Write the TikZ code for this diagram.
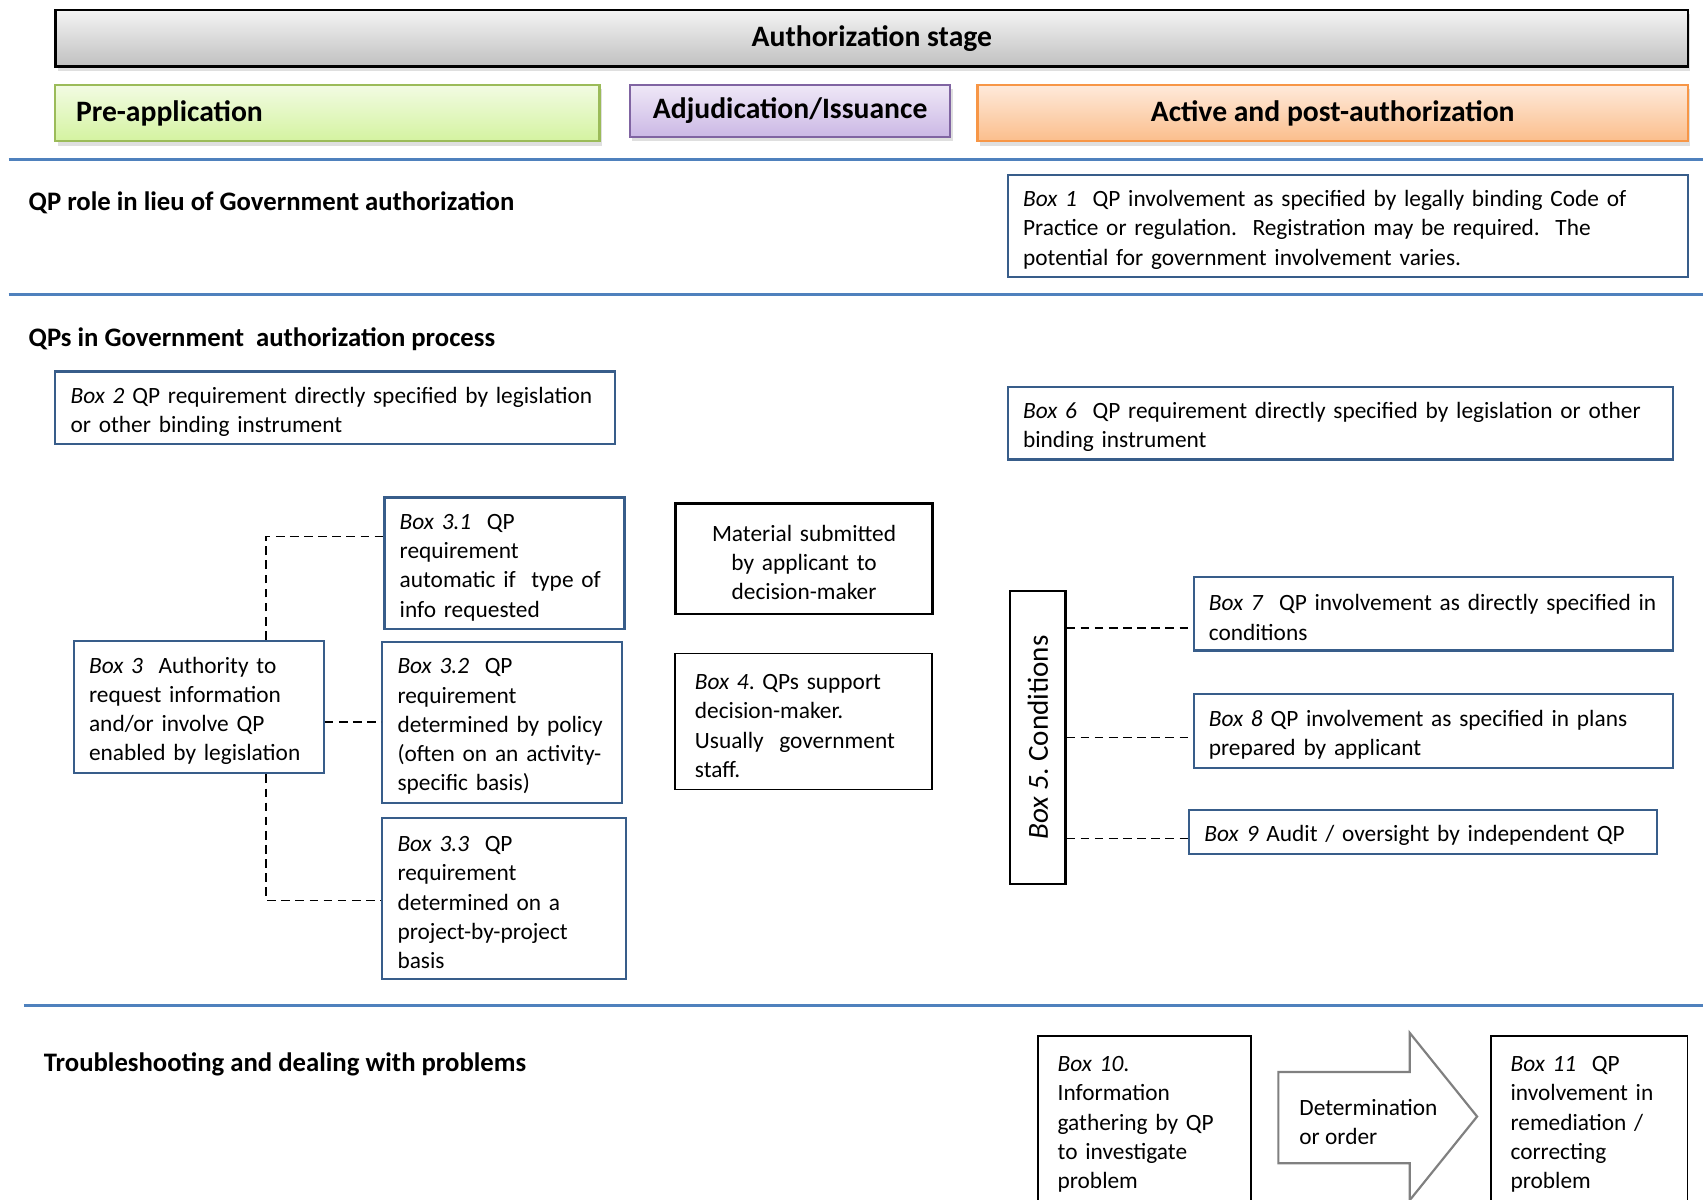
\documentclass[tikz,border=0pt]{standalone}
\usepackage{fontspec}
\setmainfont{Carlito}
\frenchspacing
\usetikzlibrary{shadows}
\newcommand\tu{\rule{0pt}{11pt}}
\definecolor{sepblue}{HTML}{4F81BD}
\definecolor{boxblue}{HTML}{385D8A}
\definecolor{grnB}{HTML}{9BBB59}
\definecolor{grnT}{HTML}{F2FBE3}
\definecolor{grnBot}{HTML}{D4F3A0}
\definecolor{purB}{HTML}{8064A2}
\definecolor{purT}{HTML}{EFE8F7}
\definecolor{purBot}{HTML}{CBB8E5}
\definecolor{orB}{HTML}{F79646}
\definecolor{orT}{HTML}{FEEADB}
\definecolor{orBot}{HTML}{FBBE8C}
\definecolor{gryT}{HTML}{F4F4F4}
\definecolor{gryBot}{HTML}{C0C0C0}
\definecolor{arrgrey}{HTML}{808080}
\begin{document}
\begin{tikzpicture}[x=0.5pt,y=-0.5pt,
  every node/.style={font=\fontsize{10.75}{13.5}\selectfont},
  stage/.style={anchor=north west, line width=1pt, font=\fontsize{13.65}{16}\selectfont\bfseries,
    drop shadow={shadow xshift=1pt,shadow yshift=-2pt,opacity=0.25}},
  qbox/.style={draw=boxblue, line width=1pt, anchor=north west, align=left, inner xsep=7pt, inner ysep=0pt},
  kbox/.style={draw=black, line width=0.8pt, anchor=north west, align=left, inner xsep=9pt, inner ysep=0pt},
  sect/.style={anchor=west, inner sep=0pt, font=\fontsize{12.3}{15}\selectfont\bfseries},
  sepline/.style={draw=sepblue, line width=1.5pt},
  dashcon/.style={draw=black, line width=0.8pt, dash pattern=on 4pt off 2.5pt},
]
\useasboundingbox (0,0) rectangle (1568,1104);
\fill[white] (0,0) rectangle (1568,1104);

% stage headers
\node[stage, draw=black, line width=1.2pt, top color=gryT, bottom color=gryBot,
  minimum width=751.5pt, minimum height=26pt] (auth) at (50,8) {Authorization stage};
\node[stage, draw=grnB, top color=grnT, bottom color=grnBot, minimum width=250.5pt, minimum height=26pt,
  text width=231.5pt, align=left, inner xsep=9.5pt] (pre) at (50,77) {Pre-application};
\node[stage, draw=purB, top color=purT, bottom color=purBot, minimum width=147.5pt, minimum height=24pt, inner xsep=2pt] (adj) at (579,77) {Adjudication/Issuance};
\node[stage, draw=orB, top color=orT, bottom color=orBot, minimum width=327pt, minimum height=26pt] (act) at (899,77) {Active and post-authorization};

% separators
\draw[sepline] (8,147) -- (1568,147);
\draw[sepline] (8,271) -- (1568,271);
\draw[sepline] (22,926) -- (1568,926);

% section titles
\node[sect] (s1) at (26,187) {QP role in lieu of Government authorization};
\node[sect] (s2) at (26,312) {QPs in Government~ authorization process};
\node[sect] (s3) at (40,980) {Troubleshooting and dealing with problems};

% boxes
\node[qbox, minimum width=313pt, minimum height=47pt, text width=299pt] (b1) at (927,160)
  {\tu\textit{Box 1}~ QP involvement as specified by legally binding Code of\\ Practice or regulation.~ Registration may be required.~ The\\ potential for government involvement varies.};
\node[qbox, minimum width=257.5pt, minimum height=33.5pt, text width=243.5pt] (b2) at (50,341)
  {\mbox{\tu\textit{Box 2} QP requirement directly specified by legislation}\\ or other binding instrument};
\node[qbox, minimum width=306pt, minimum height=33.5pt, text width=292pt] (b6) at (927,355)
  {\tu\textit{Box 6}~ QP requirement directly specified by legislation or other\\ binding instrument};

\node[qbox, minimum width=110.5pt, minimum height=60.5pt, text width=96.5pt] (b31) at (353,457)
  {\tu\textit{Box 3.1}~ QP\\ requirement\\ automatic if~ type of\\ info requested};
\node[qbox, minimum width=115pt, minimum height=61pt, text width=101pt] (b3) at (67,589)
  {\tu\textit{Box 3}~ Authority to\\ request information\\ and/or involve QP\\ \mbox{enabled by legislation}};
\node[qbox, minimum width=110.5pt, minimum height=74pt, text width=96.5pt] (b32) at (351,590)
  {\tu\textit{Box 3.2}~ QP\\ requirement\\ \mbox{determined by policy}\\ \mbox{(often on an activity-}\\ specific basis)};
\node[qbox, minimum width=112pt, minimum height=74pt, text width=98pt] (b33) at (351,752)
  {\tu\textit{Box 3.3}~ QP\\ requirement\\ determined on a\\ project-by-project\\ basis};

\node[kbox, line width=1.3pt, align=center, minimum width=118pt, minimum height=51pt, text width=100pt] (mat) at (621,462)
  {\tu Material submitted\\ by applicant to\\ decision-maker};
\node[kbox, minimum width=118pt, minimum height=62.5pt, text width=100pt] (b4) at (621,601)
  {\tu\textit{Box 4}. QPs support\\ decision-maker.\\ Usually~ government\\ staff.};

\node[draw=black, line width=1pt, rotate=90, minimum width=135pt, minimum height=25.5pt, inner sep=0pt,
  font=\fontsize{13.4}{16}\selectfont] (b5) at (955.5,679) {\textit{Box 5}. Conditions};

\node[qbox, minimum width=220.5pt, minimum height=34pt, text width=206.5pt] (b7) at (1098,530)
  {\mbox{\tu\textit{Box 7}~ QP involvement as directly specified in}\\ conditions};
\node[qbox, minimum width=220.5pt, minimum height=34pt, text width=206.5pt] (b8) at (1098,638)
  {\tu\textit{Box 8} QP involvement as specified in plans\\ prepared by applicant};
\node[qbox, minimum width=215.5pt, minimum height=20pt, text width=201.5pt] (b9) at (1094,745)
  {\tu\textit{Box 9} Audit / oversight by independent QP};

\node[kbox, minimum width=98pt, minimum height=77.5pt, text width=80pt] (b10) at (955,953)
  {\tu\textit{Box 10}.\\ Information\\ gathering by QP\\ to investigate\\ problem};
\node[kbox, minimum width=90.5pt, minimum height=77.5pt, text width=72.5pt] (b11) at (1372,953)
  {\tu\textit{Box 11}~ QP\\ involvement in\\ remediation /\\ correcting\\ problem};

% block arrow
\draw[draw=arrgrey, line width=1pt, fill=white, line join=miter]
  (1177,987) -- (1298,987) -- (1298,951) -- (1360,1028) -- (1298,1105) -- (1298,1071) -- (1177,1071) -- cycle;
\node[anchor=west, inner sep=0pt, align=left] (det) at (1196,1033) {Determination\\ or order};

% dashed connectors
\coordinate (j1) at (245,494);
\coordinate (j2) at (245,829);
\draw[dashcon] (b3.north -| j1) -- (j1) -- (b31.west |- j1);
\draw[dashcon] (b3.east |- b32.west) -- (b32.west);
\draw[dashcon] (b3.south -| j2) -- (j2) -- (b33.west |- j2);
\coordinate (k7) at (1000,578);
\coordinate (k8) at (1000,679);
\coordinate (k9) at (1000,772);
\draw[dashcon] (b5.south |- k7) -- (b7.west |- k7);
\draw[dashcon] (b5.south |- k8) -- (b8.west |- k8);
\draw[dashcon] (b5.south |- k9) -- (b9.west |- k9);
\end{tikzpicture}
\end{document}
